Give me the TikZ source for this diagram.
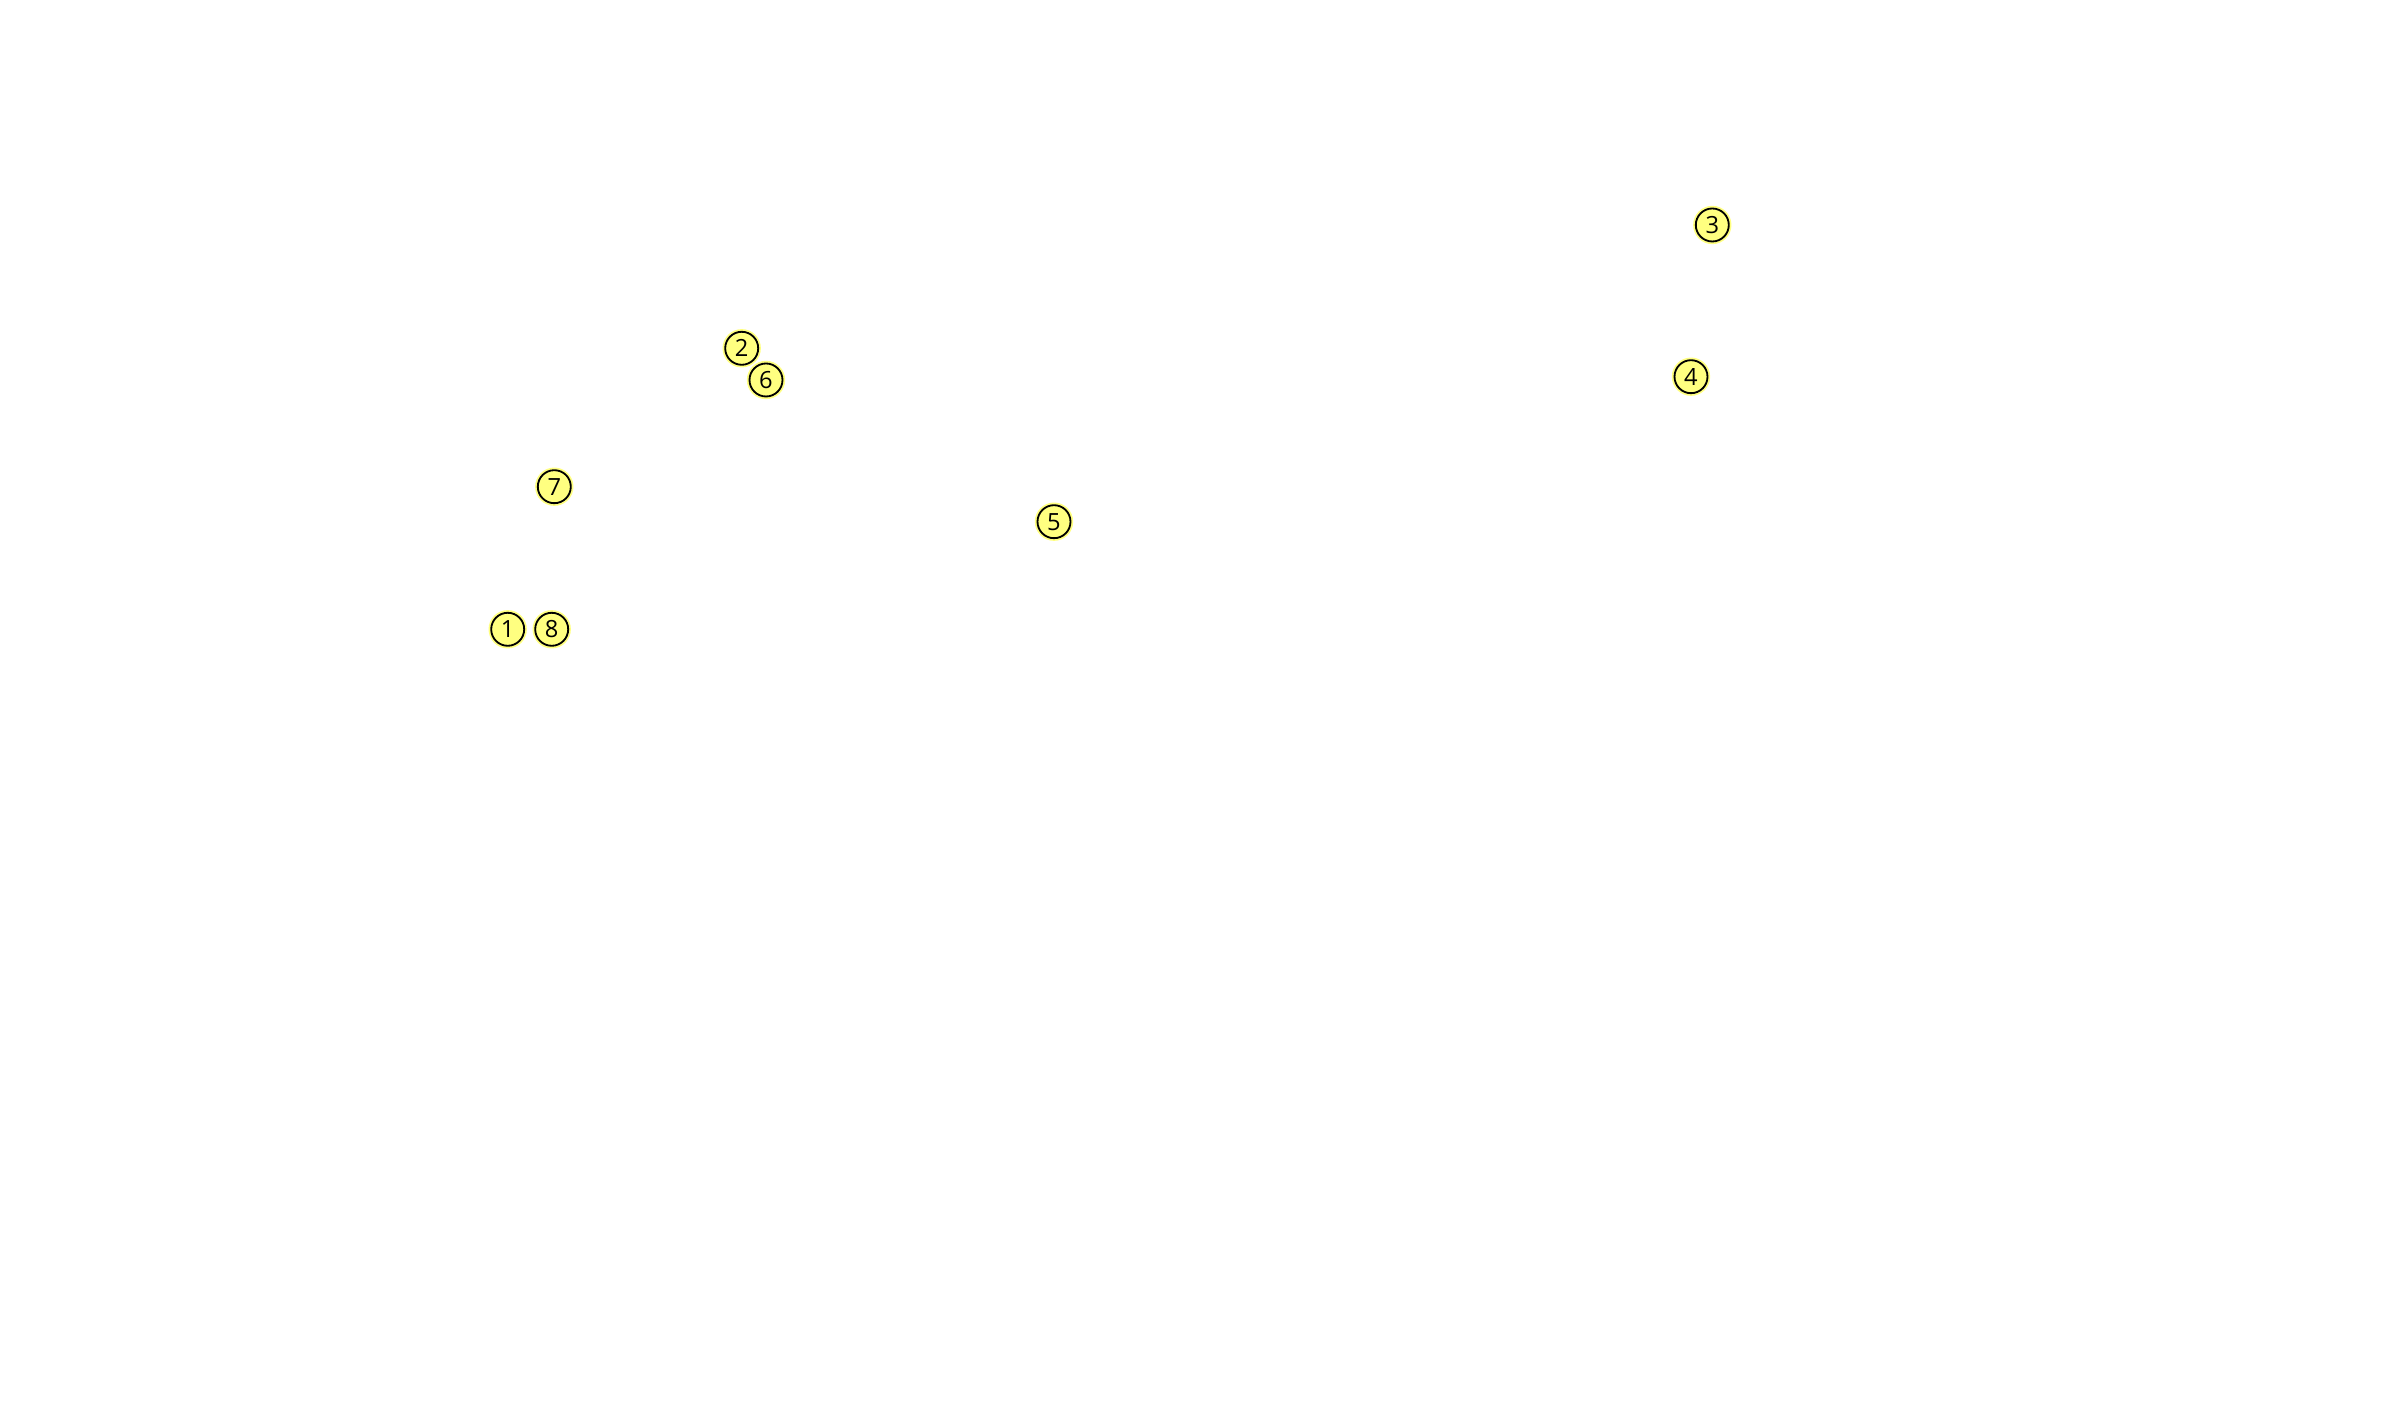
\documentclass[tikz,border=0pt]{standalone}
\usepackage{fontspec}
\newfontfamily\markfont{Open Sans}
\definecolor{markyellow}{RGB}{255,255,128}
\tikzset{
  marker/.style={circle, draw=black, line width=0.55pt, fill=markyellow,
    preaction={draw=markyellow, line width=1.6pt},
    minimum size=9.9pt, inner sep=0pt,
    font=\markfont\fontsize{7.1}{7.1}\selectfont, text=black}
}
\begin{document}
\begin{tikzpicture}[x=0.3pt,y=-0.3pt]
\useasboundingbox (0,0) rectangle (2401,1401);
\node[marker] (m1) at (507.7,629.3) {1};
\node[marker] (m2) at (741.7,348.3) {2};
\node[marker] (m3) at (1712.3,225) {3};
\node[marker] (m4) at (1691,376.7) {4};
\node[marker] (m5) at (1054,521.7) {5};
\node[marker] (m6) at (766,380) {6};
\node[marker] (m7) at (554.3,486.7) {7};
\node[marker] (m8) at (551.7,629.3) {8};
\end{tikzpicture}
\end{document}
